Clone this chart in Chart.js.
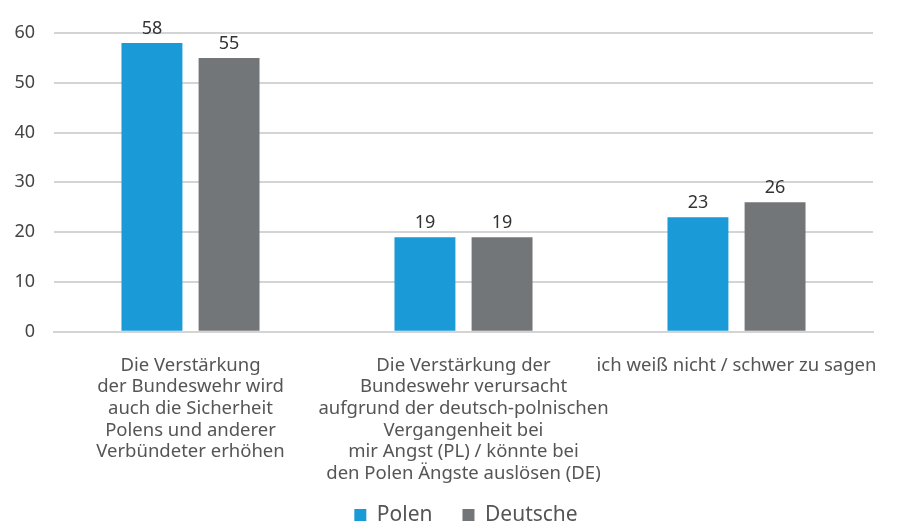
<!DOCTYPE html>
<html lang="de">
<head>
    <meta charset="UTF-8">
    <title>Bundeswehr</title>
    <script src="https://cdn.jsdelivr.net/npm/chart.js"></script>
    <style>
        html, body {
            margin: 0;
            padding: 0;
            background: #fff;
        }
        #wrap {
            width: 901px;
            height: 524px;
        }
    </style>
</head>
<body>
    <div id="wrap"><canvas id="chart"></canvas></div>
    <script>
        const categories = [
            ["Die Verstärkung", "der Bundeswehr wird", "auch die Sicherheit", "Polens und anderer", "Verbündeter erhöhen"],
            ["Die Verstärkung der", "Bundeswehr verursacht", "aufgrund der deutsch-polnischen", "Vergangenheit bei", "mir Angst (PL) / könnte bei", "den Polen Ängste auslösen (DE)"],
            "ich weiß nicht / schwer zu sagen"
        ];
        const seriesNames = ["Polen", "Deutsche"];
        const polen = [58, 19, 23];
        const deutsche = [55, 19, 26];

        const font = "'Noto Sans', 'Open Sans', sans-serif";

        // draws the value above every bar
        const valueLabels = {
            id: 'valueLabels',
            afterDatasetsDraw(chart) {
                const ctx = chart.ctx;
                ctx.save();
                ctx.font = "18px " + font;
                ctx.fillStyle = "#333";
                ctx.textAlign = "center";
                ctx.textBaseline = "bottom";
                chart.data.datasets.forEach((ds, i) => {
                    chart.getDatasetMeta(i).data.forEach((bar, j) => {
                        ctx.fillText(ds.data[j], bar.x, bar.y - 5);
                    });
                });
                ctx.restore();
            }
        };

        // legend: wide gap between the items but little space above them,
        // and centred under the plot instead of the canvas
        const legendShift = {
            id: 'legendShift',
            beforeLayout(chart) {
                const lg = chart.legend;
                if (!lg || lg._shifted) return;
                lg._shifted = true;
                const dy = 25, dx = 29.5;
                const fit = lg.fit;
                lg.fit = function () {
                    fit.call(this);
                    this.height -= dy;
                };
                const draw = lg.draw;
                lg.draw = function () {
                    this.top -= dy;
                    this.left += dx; this.right += dx;
                    draw.call(this);
                    this.top += dy;
                    this.left -= dx; this.right -= dx;
                };
            }
        };

        new Chart(document.getElementById("chart"), {
            type: 'bar',
            data: {
                labels: categories,
                datasets: [{
                    label: seriesNames[0],
                    data: polen,
                    backgroundColor: '#1a9ad6',
                    categoryPercentage: 0.565,
                    barPercentage: 0.79
                }, {
                    label: seriesNames[1],
                    data: deutsche,
                    backgroundColor: '#737679',
                    categoryPercentage: 0.565,
                    barPercentage: 0.79
                }]
            },
            options: {
                responsive: true,
                maintainAspectRatio: false,
                animation: false,
                layout: {
                    padding: { top: 33, right: 28, left: 0, bottom: -11.6 }
                },
                plugins: {
                    legend: {
                        position: 'bottom',
                        labels: {
                            boxWidth: 12,
                            boxHeight: 12,
                            padding: 30,
                            color: '#555',
                            font: { family: font, size: 21 }
                        }
                    },
                    tooltip: { enabled: false }
                },
                scales: {
                    x: {
                        grid: { display: false },
                        border: { color: '#d4d4d4', width: 2 },
                        ticks: {
                            color: '#555',
                            maxRotation: 0,
                            autoSkip: false,
                            padding: 15,
                            font: { family: font, size: 18.5, lineHeight: 1.17 }
                        }
                    },
                    y: {
                        min: 0,
                        max: 60,
                        afterFit(axis) { axis.width = 54; },
                        ticks: {
                            stepSize: 10,
                            color: '#444',
                            padding: 19,
                            font: { family: font, size: 18 }
                        },
                        border: { display: false },
                        grid: { color: '#d4d4d4', lineWidth: 2, drawTicks: false }
                    }
                }
            },
            plugins: [valueLabels, legendShift]
        });
    </script>
</body>
</html>
